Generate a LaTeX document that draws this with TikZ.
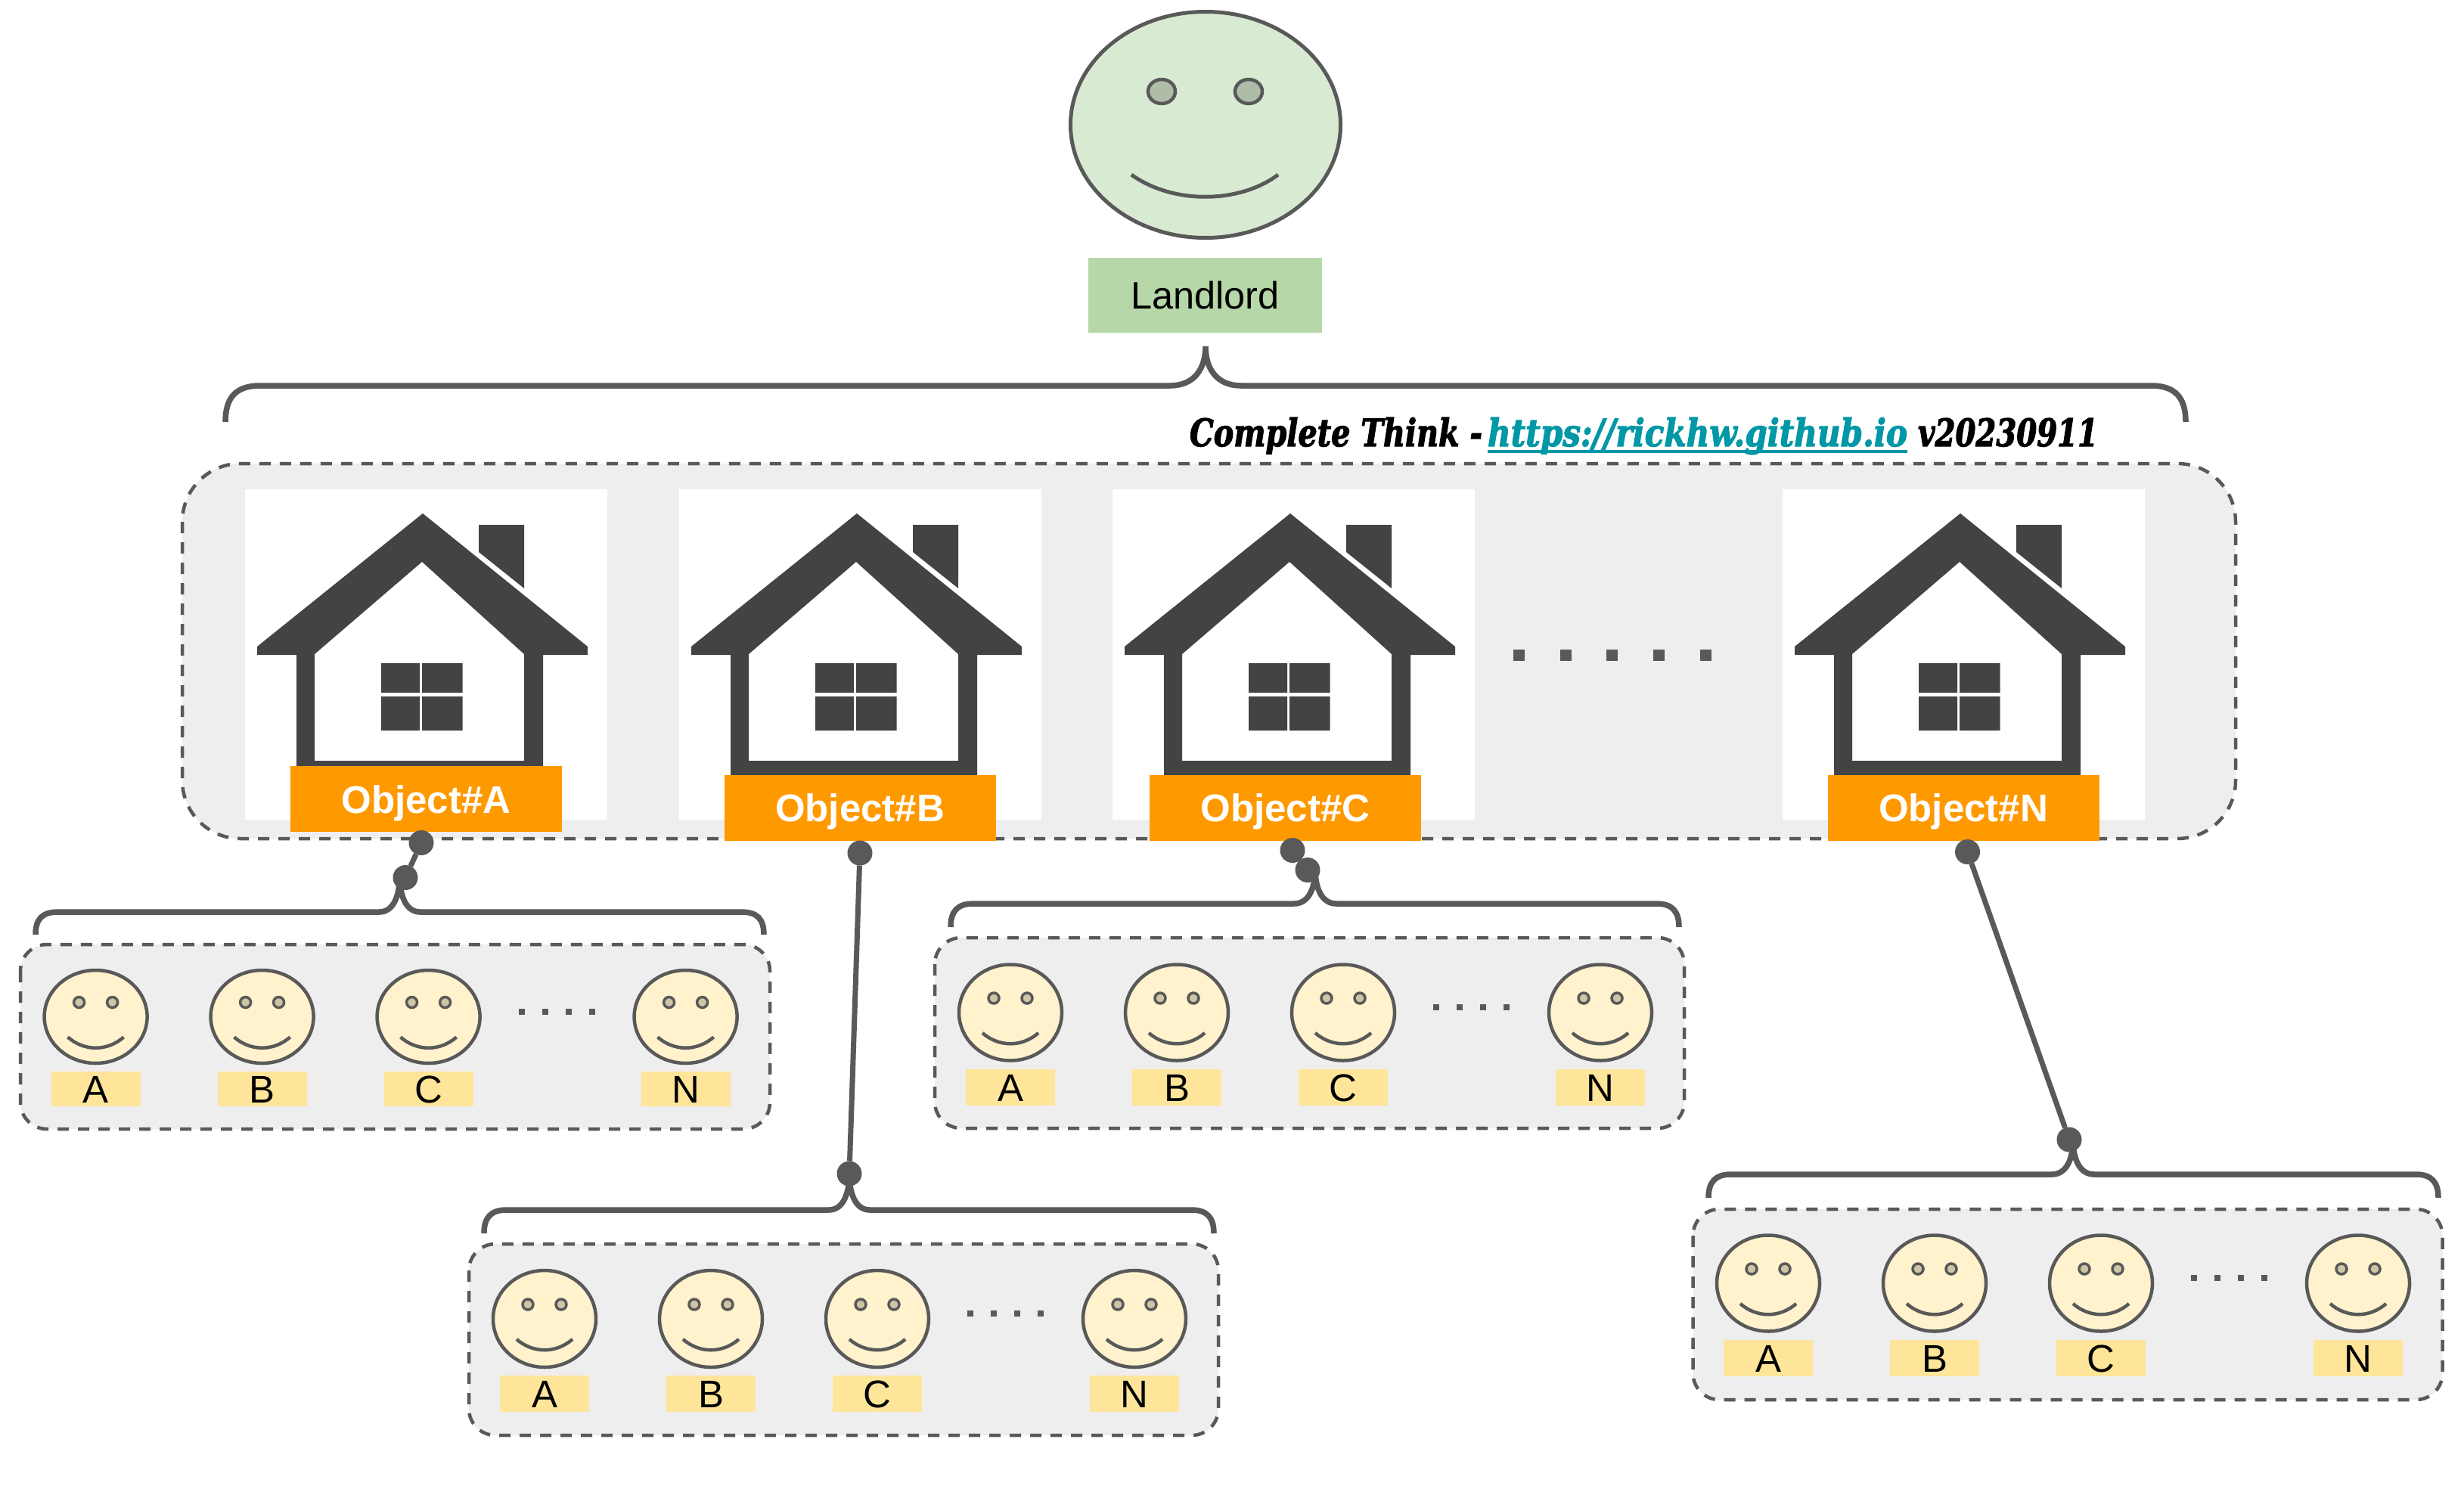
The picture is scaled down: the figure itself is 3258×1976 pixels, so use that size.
\documentclass[tikz,border=0pt]{standalone}
\usepackage{fontspec}
\setmainfont{Liberation Sans}
\newfontfamily\slabfont[BoldItalicFeatures={FakeBold=2.5}]{DejaVu Serif}
\usetikzlibrary{shapes.geometric}
\definecolor{ink}{HTML}{595959}
\definecolor{panel}{HTML}{EEEEEE}
\definecolor{housec}{HTML}{434343}
\definecolor{orangec}{HTML}{FF9900}
\definecolor{faceg}{HTML}{D9EAD3}
\definecolor{labelg}{HTML}{B6D7A8}
\definecolor{eyeg}{HTML}{AFBDA8}
\definecolor{facey}{HTML}{FFF2CC}
\definecolor{labely}{HTML}{FFE599}
\definecolor{eyey}{HTML}{CFC5A5}
\definecolor{linkc}{HTML}{0097A7}
\tikzset{
  x=1pt,y=-1pt,
  panelbox/.style={draw=ink,fill=panel,line width=4.5pt,dash pattern=on 15pt off 12pt},
  bracket/.style={draw=ink,line width=7.5pt,line cap=butt},
  conn/.style={draw=ink,line width=7pt},
  knob/.style={circle,fill=ink,draw=none,minimum size=33pt,inner sep=0pt,outer sep=0pt},
  tinydot/.style={rectangle,fill=ink,draw=none,minimum size=8pt,inner sep=0pt,outer sep=0pt},
  bigdot/.style={rectangle,fill=ink,draw=none,minimum size=15pt,inner sep=0pt,outer sep=0pt},
  facey/.style={ellipse,draw=ink,fill=facey,line width=4.5pt,inner sep=0pt,outer sep=0pt,minimum width=136pt},
  eyey/.style={ellipse,draw=ink,fill=eyey,line width=3.5pt,inner sep=0pt,outer sep=0pt,minimum width=14pt,minimum height=14pt},
  tag/.style={rectangle,fill=labely,inner sep=0pt,outer sep=0pt,minimum width=118pt,font=\fontsize{51}{60}\selectfont,text height=37pt,text depth=0pt},
  objtag/.style={rectangle,fill=orangec,inner sep=0pt,outer sep=0pt,minimum width=359pt,minimum height=87pt,text=white,font=\fontsize{51}{60}\selectfont\bfseries,text height=37pt,text depth=0pt},
  slabtext/.style={anchor=base west,inner sep=0pt,outer sep=0pt,font=\slabfont\fontsize{50}{60}\selectfont\bfseries\itshape},
}
% #1 left #2 right #3 centre #4 flat y #5 end y #6 curl half width #7 tip height #8 corner radius
\newcommand{\bracketpath}[8]{%
  \draw[bracket] (#1,#5) .. controls (#1,{#5-0.7*#8}) and ({#1+0.3*#8},#4) .. ({#1+#8},#4)
    -- ({#3-#6},#4) .. controls ({#3-0.3*#6},#4) and (#3,{#4-0.45*#7}) .. (#3,{#4-#7})
    .. controls (#3,{#4-0.45*#7}) and ({#3+0.3*#6},#4) .. ({#3+#6},#4)
    -- ({#2-#8},#4) .. controls ({#2-0.3*#8},#4) and (#2,{#5-0.7*#8}) .. (#2,#5);}
% #1 id #2 shift
\newcommand{\housepic}[2]{%
  \begin{scope}[xshift=#2pt]
    \fill[white] (324,647) rectangle (803,1084);
    \fill[housec,even odd rule] (559,679) -- (777,855) -- (777,866) -- (718,866) -- (718,1030) -- (392,1030) -- (392,866) -- (340,866) -- (340,855) -- cycle
      (558,743) -- (693,865) -- (693,1006) -- (416,1006) -- (416,865) -- cycle;
    \fill[housec] (633,694) -- (693,694) -- (693,778) -- (633,730) -- cycle;
    \fill[housec] (504,877) rectangle (555,916) (558,877) rectangle (611.5,916)
                  (504,921) rectangle (555,966) (558,921) rectangle (611.5,966);
  \end{scope}}
% #1 id #2 box left #3 box top #4 box bottom #5 first face x #6 face y #7 face ry #8 tag y #9 tag height
\newcommand{\crowd}[9]{%
  \draw[panelbox,rounded corners=35pt] (#2,#3) rectangle ({#2+991},#4);
  \foreach \n/\dx in {A/0,B/220,C/440,N/780}{
    \node[facey,minimum height={2*#7-2}] (face#1\n) at ({#5+\dx},#6) {};
    \node[eyey] (eyeL#1\n) at ({#5+\dx-22},{#6-19}) {};
    \node[eyey] (eyeR#1\n) at ({#5+\dx+22},{#6-19}) {};
    \draw[draw=ink,line width=4.5pt] ({#5+\dx-37},{#6+27}) .. controls ({#5+\dx-15},{#6+46}) and ({#5+\dx+15},{#6+46}) .. ({#5+\dx+37},{#6+27});
    \node[tag,minimum height=#9] (tag#1\n) at ({#5+\dx},#8) {\n};
  }
  \foreach \k/\ox in {1/563,2/594,3/625,4/656}{
    \node[tinydot] (td#1\k) at ({#5+\ox},{#6-7}) {};
  }}
\begin{document}
\begin{tikzpicture}
\useasboundingbox (0,0) rectangle (3258,1976);
\fill[white] (0,0) rectangle (3258,1976);
% landlord
\node[ellipse,draw=ink,fill=faceg,line width=5pt,minimum width=357pt,minimum height=299pt,inner sep=0pt,outer sep=0pt] (lord) at (1594,165) {};
\node[ellipse,draw=ink,fill=eyeg,line width=4.5pt,minimum width=36pt,minimum height=32pt,inner sep=0pt,outer sep=0pt] (lordeyeL) at (1536,121) {};
\node[ellipse,draw=ink,fill=eyeg,line width=4.5pt,minimum width=36pt,minimum height=32pt,inner sep=0pt,outer sep=0pt] (lordeyeR) at (1651,121) {};
\draw[draw=ink,line width=5pt] (1496,231) .. controls (1550,270) and (1638,270) .. (1690,231);
\node[rectangle,fill=labelg,minimum width=309pt,minimum height=99pt,inner sep=0pt,outer sep=0pt,font=\fontsize{50.5}{60}\selectfont,text height=35pt,text depth=0pt] (lordtag) at (1593.5,390.5) {Landlord};
% top bracket
\bracketpath{298}{2890}{1594}{510}{558}{47}{52}{46}
\node[slabtext] (txtA) at (1573,590) {\resizebox{387pt}{\height}{Complete Think -}};
\node[slabtext,text=linkc] (txtB) at (1967,590) {\resizebox{555pt}{\height}{https://rickhw.github.io}};
\node[slabtext] (txtC) at (2536,590) {\resizebox{238pt}{\height}{v20230911}};
\draw[draw=linkc,line width=4pt] (1967,597) -- (2522,597);
% houses panel
\draw[panelbox,rounded corners=77pt] (241,613) rectangle (2956,1109);
\housepic{A}{0}
\housepic{B}{574}
\housepic{C}{1147}
\housepic{N}{2033}
\node[objtag] (objA) at (563.5,1056.5) {Object\#A};
\node[objtag] (objB) at (1137,1068) {Object\#B};
\node[objtag] (objC) at (1699.5,1068) {Object\#C};
\node[objtag] (objN) at (2596,1068) {Object\#N};
\foreach \k/\px in {1/2008,2/2070,3/2131.5,4/2193,5/2255}{
  \node[bigdot] (bd\k) at (\px,866.5) {};
}
% crowds
\crowd{A}{27}{1249}{1493}{126.6}{1344.5}{62.5}{1440}{46pt}
\crowd{B}{620}{1645}{1898}{720}{1744}{65}{1843}{48pt}
\crowd{C}{1236}{1240}{1492}{1336}{1339}{64.5}{1438}{48pt}
\crowd{N}{2238.5}{1599}{1851}{2338}{1697}{64.5}{1796}{48pt}
% brackets
\bracketpath{47}{1010}{528.5}{1206}{1236}{27}{48}{30}
\bracketpath{640}{1605}{1123}{1600}{1631}{27}{48}{30}
\bracketpath{1257}{2220}{1739}{1195}{1226}{28}{46}{30}
\bracketpath{2259}{3224}{2741}{1553}{1584}{28}{46}{30}
% connectors
\node[knob] (kA1) at (557,1114.5) {};
\node[knob] (kA2) at (536,1160.5) {};
\node[knob] (kB1) at (1137,1128) {};
\node[knob] (kB2) at (1123,1552) {};
\node[knob] (kC1) at (1709,1124.5) {};
\node[knob] (kC2) at (1729,1150.5) {};
\node[knob] (kN1) at (2601.5,1126.5) {};
\node[knob] (kN2) at (2736,1507) {};
\draw[conn] (kA1) -- (kA2);
\draw[conn] (kB1) -- (kB2);
\draw[conn] (kC1) -- (kC2);
\draw[conn] (kN1) -- (kN2);
\end{tikzpicture}
\end{document}
